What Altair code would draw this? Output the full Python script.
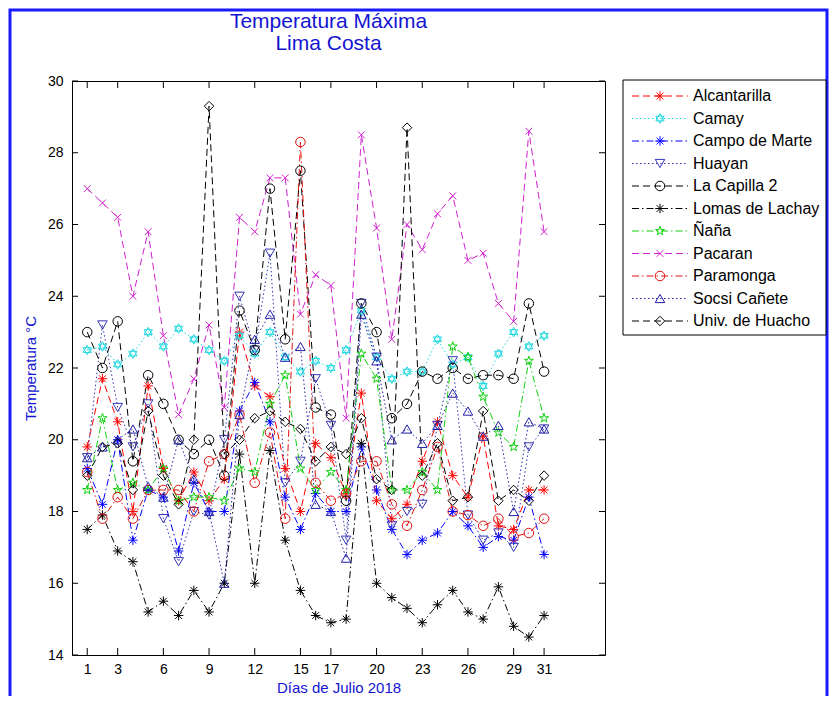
import altair as alt
import pandas as pd

# ---------------- data ----------------
days = list(range(1, 32))
series_names = ["Alcantarilla", "Camay", "Campo de Marte", "Huayan", "La Capilla 2",
                "Lomas de Lachay", "Ñaña", "Pacaran", "Paramonga", "Socsi Cañete",
                "Univ. de Huacho"]

alcantarilla = [19.8, 21.7, 20.5, 18.0, 21.5, 19.2, 18.3, 19.1, 18.3, 18.9, 23.0, 21.5, 21.2, 19.2, 18.0, 19.9,
                19.5, 18.5, 21.3, 18.3, 17.8, 18.2, 19.4, 20.5, 19.0, 18.4, 20.1, 17.6, 17.5, 18.6, 18.6]
camay = [22.5, 22.6, 22.1, 22.4, 23.0, 22.6, 23.1, 22.8, 22.5, 22.2, 22.9, 22.4, 23.0, 22.3, 21.9, 22.2,
         22.0, 22.5, 23.6, 22.3, 21.7, 21.9, 21.9, 22.8, 22.1, 22.3, 21.5, 22.4, 23.0, 22.6, 22.9]
campo_de_marte = [19.2, 18.2, 20.0, 17.2, 18.6, 18.4, 16.9, 18.8, 18.0, 18.0, 20.8, 21.6, 20.5, 18.4, 17.5, 18.5,
                  18.0, 18.0, 19.8, 18.6, 17.5, 16.8, 17.2, 17.4, 18.0, 17.6, 17.0, 17.3, 17.2, 18.4, 16.8]
huayan = [19.5, 23.2, 20.9, 19.8, 21.0, 17.8, 16.6, 18.0, 17.9, 20.0, 24.0, 22.5, 25.2, 18.8, 19.4, 21.7,
          20.4, 17.2, 23.8, 22.3, 17.6, 18.0, 18.2, 20.4, 22.2, 17.9, 17.2, 17.4, 17.0, 19.8, 20.3]
la_capilla = [23.0, 22.0, 23.3, 19.4, 21.8, 21.0, 20.0, 19.6, 20.0, 19.0, 23.6, 22.5, 27.0, 22.8, 27.5, 20.9,
              20.7, 18.3, 23.8, 23.0, 20.6, 21.0, 21.9, 21.7, 22.0, 21.7, 21.8, 21.8, 21.7, 23.8, 21.9]
lomas = [17.5, 17.9, 16.9, 16.6, 15.2, 15.5, 15.1, 15.8, 15.2, 16.0, 19.6, 16.0, 19.7, 17.2, 15.8, 15.1,
         14.9, 15.0, 19.9, 16.0, 15.6, 15.3, 14.9, 15.4, 15.8, 15.2, 15.0, 15.9, 14.8, 14.5, 15.1]
nana = [18.6, 20.6, 18.6, 18.8, 18.6, 19.2, 18.3, 18.4, 18.4, 18.3, 19.2, 19.1, 21.0, 21.8, 19.2, 18.6,
        19.1, 18.6, 22.4, 21.7, 18.6, 18.6, 19.1, 18.6, 22.6, 22.3, 21.2, 20.2, 19.8, 22.2, 20.6]
pacaran = [27.0, 26.6, 26.2, 24.0, 25.8, 22.9, 20.7, 21.7, 23.2, 20.9, 26.2, 25.8, 27.3, 27.3, 23.5, 24.6,
           24.3, 20.6, 28.5, 25.9, 22.8, 26.0, 25.3, 26.3, 26.8, 25.0, 25.2, 23.8, 23.3, 28.6, 25.8]
paramonga = [19.1, 17.8, 18.4, 17.8, 18.6, 18.6, 18.6, 18.0, 19.4, 19.6, 20.7, 18.8, 20.2, 17.8, 28.3, 18.8,
             18.3, 18.5, 19.4, 19.4, 18.2, 17.6, 18.6, 19.8, 18.0, 17.9, 17.6, 17.8, 17.3, 17.4, 17.8]
socsi = [19.5, 19.8, 20.0, 20.3, 18.7, 18.4, 20.0, 18.9, 18.0, 16.0, 20.7, 22.8, 23.5, 22.3, 22.6, 18.2,
         18.0, 16.7, 23.5, 22.2, 20.0, 20.3, 19.9, 20.4, 21.3, 20.8, 20.1, 20.4, 18.0, 20.5, 20.3]
univ_huacho = [19.0, 19.8, 19.9, 18.6, 20.8, 19.0, 18.2, 20.0, 29.3, 19.6, 20.0, 20.6, 20.8, 20.5, 20.3, 19.4,
               19.8, 19.6, 20.6, 18.9, 18.6, 28.7, 19.0, 19.9, 18.3, 18.4, 20.8, 18.3, 18.6, 18.3, 19.0]

all_values = [alcantarilla, camay, campo_de_marte, huayan, la_capilla, lomas, nana,
              pacaran, paramonga, socsi, univ_huacho]

x_ticks = [1, 3, 6, 9, 12, 15, 17, 20, 23, 26, 29, 31]
y_ticks = [14, 16, 18, 20, 22, 24, 26, 28, 30]
title_lines = ["Temperatura Máxima", "Lima Costa"]

# ---------------- styles ----------------
colors = ["#FF0000", "#22D8E0", "#0000FF", "#3434B4", "#000000", "#000000",
          "#10D010", "#D020D0", "#E01010", "#2020A8", "#000000"]
DASH = [7, 4]
DOT = [1.5, 2.5]
DASHDOT = [7, 3, 1.5, 3]
dashes = [DASH, DOT, DASHDOT, DOT, DASH, DASHDOT, DASHDOT, DASH, DASHDOT, DOT, DASH]

ASTERISK = "M-1,0L1,0M0,-1L0,1M-0.72,-0.72L0.72,0.72M-0.72,0.72L0.72,-0.72"
HEXAGRAM = "M0,-1L0.866,0.5L-0.866,0.5ZM0,1L0.866,-0.5L-0.866,-0.5Z"
XMARK = "M-0.72,-0.72L0.72,0.72M-0.72,0.72L0.72,-0.72"
PENTAGRAM = ("M0,-1L0.2245,-0.309L0.951,-0.309L0.363,0.118L0.588,0.809L0,0.382"
             "L-0.588,0.809L-0.363,0.118L-0.951,-0.309L-0.2245,-0.309Z")
shapes = [ASTERISK, HEXAGRAM, ASTERISK, "triangle-down", "circle", ASTERISK,
          PENTAGRAM, XMARK, "circle", "triangle-up", "diamond"]

rows = []
for name, vals in zip(series_names, all_values):
    for d, v in zip(days, vals):
        rows.append({"day": d, "temp": v, "series": name})
df = pd.DataFrame(rows)
leg_df = pd.DataFrame({"series": series_names})
xt_df = pd.DataFrame({"day": x_ticks})
yt_df = pd.DataFrame({"temp": y_ticks})
one = pd.DataFrame({"a": [0]})

W, H = 533, 574
FONT = "Liberation Sans"
BLUE = "#1414D2"

xscale = alt.Scale(domain=[0, 35], nice=False, zero=False)
yscale = alt.Scale(domain=[14, 30], nice=False, zero=False)
x_axis = alt.Axis(values=x_ticks, title="Días de Julio 2018", format="d", labelPadding=7,
                  titlePadding=4, labelOverlap=False, labelFlush=False)
y_axis = alt.Axis(values=y_ticks, title="Temperatura °C", format="d", labelPadding=9,
                  titlePadding=9, labelOverlap=False, labelFlush=False)


def X():
    return alt.X("day:Q", scale=xscale, axis=x_axis)


color_enc = alt.Color("series:N", scale=alt.Scale(domain=series_names, range=colors), legend=None)
dash_enc = alt.StrokeDash("series:N", scale=alt.Scale(domain=series_names, range=dashes), legend=None)
shape_enc = alt.Shape("series:N", scale=alt.Scale(domain=series_names, range=shapes), legend=None)

lines = alt.Chart(df).mark_line(strokeWidth=1).encode(
    x=X(), y=alt.Y("temp:Q", scale=yscale, axis=y_axis),
    color=color_enc, strokeDash=dash_enc,
)
points = alt.Chart(df).mark_point(filled=False, size=90, strokeWidth=1, opacity=1).encode(
    x=X(), y=alt.Y("temp:Q", scale=yscale, axis=None),
    color=color_enc, shape=shape_enc,
)

# inward ticks on all four sides
tk = dict(color="black", strokeWidth=1)
ytick_l = alt.Chart(yt_df).mark_rule(**tk).encode(
    y=alt.Y("temp:Q", scale=yscale, axis=None), x=alt.value(0), x2=alt.value(6))
ytick_r = alt.Chart(yt_df).mark_rule(**tk).encode(
    y=alt.Y("temp:Q", scale=yscale, axis=None), x=alt.value(W - 6), x2=alt.value(W))
xtick_b = alt.Chart(xt_df).mark_rule(**tk).encode(
    x=X(), y=alt.value(H - 7), y2=alt.value(H))
xtick_t = alt.Chart(xt_df).mark_rule(**tk).encode(
    x=X(), y=alt.value(0), y2=alt.value(7))


# legend
def leg_y():
    return alt.Y("series:N", scale=alt.Scale(type="point", domain=series_names, range=[15, 240], padding=0),
                 axis=None)


leg_box = alt.Chart(one).mark_rect(fill="white", stroke="black", strokeWidth=1).encode(
    x=alt.value(551), x2=alt.value(754), y=alt.value(-1), y2=alt.value(254))
leg_lines = alt.Chart(leg_df).mark_rule(strokeWidth=1).encode(
    y=leg_y(), x=alt.value(560), x2=alt.value(616), color=color_enc, strokeDash=dash_enc)
leg_pts = alt.Chart(leg_df).mark_point(filled=False, size=90, strokeWidth=1, opacity=1).encode(
    y=leg_y(), x=alt.value(588), color=color_enc, shape=shape_enc)
leg_txt = alt.Chart(leg_df).mark_text(align="left", baseline="middle", font=FONT, fontSize=16,
                                      color="black").encode(
    y=leg_y(), x=alt.value(621), text="series:N")

# titles and figure frame
t1 = alt.Chart(one).mark_text(text=title_lines[0], font=FONT, fontSize=21, color=BLUE,
                              align="center", baseline="middle").encode(
    x=alt.value(W / 2 - 10), y=alt.value(-59))
t2 = alt.Chart(one).mark_text(text=title_lines[1], font=FONT, fontSize=21, color=BLUE,
                              align="center", baseline="middle").encode(
    x=alt.value(W / 2 - 10), y=alt.value(-37))
frame = alt.Chart(one).mark_rect(fill="white", fillOpacity=0, stroke="#1A1AFF", strokeWidth=3).encode(
    x=alt.value(-62), x2=alt.value(755), y=alt.value(-71), y2=alt.value(700))

chart = alt.layer(
    frame, lines, points, ytick_l, ytick_r, xtick_b, xtick_t,
    leg_box, leg_lines, leg_pts, leg_txt, t1, t2,
).resolve_scale(y="independent").properties(
    width=W, height=H,
    autosize=alt.AutoSizeParams(type="none"),
    padding={"left": 64, "top": 73, "right": 224, "bottom": 41},
    background="white",
).configure_view(stroke="black", strokeWidth=1).configure_axis(
    grid=False, domain=False, ticks=False,
    labelFont=FONT, labelFontSize=14, labelColor="black",
    titleFont=FONT, titleFontSize=15, titleColor=BLUE, titleFontWeight="normal",
)

chart.save("out.html", embed_options={"renderer": "svg", "actions": False})
